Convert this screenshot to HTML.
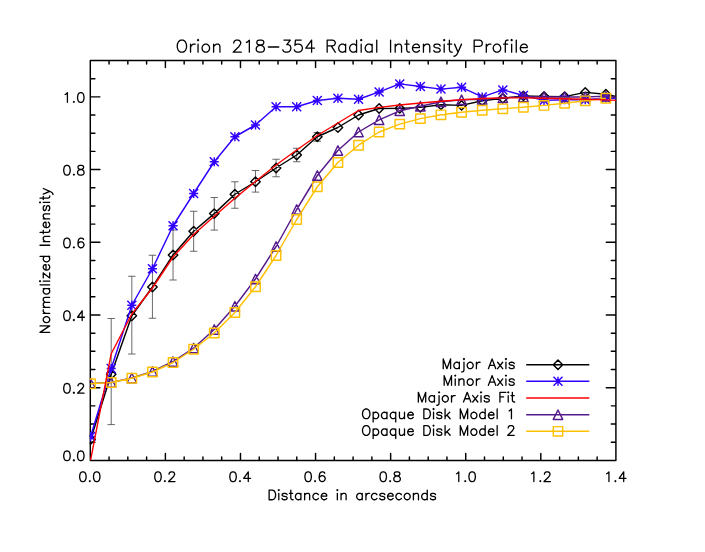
<!DOCTYPE html>
<html><head><meta charset="utf-8"><title>Orion 218-354 Radial Intensity Profile</title>
<style>html,body{margin:0;padding:0;background:#fff;font-family:"Liberation Sans",sans-serif;}svg{display:block}</style></head>
<body>
<svg width="705" height="552" viewBox="0 0 705 552">
<rect width="705" height="552" fill="#fff"/>
<g fill="none" stroke="#000" stroke-width="1.3" stroke-linecap="round" stroke-linejoin="round"><path transform="translate(352.25 52.20) rotate(0)" d="M-171.51 -12.11 L-172.66 -11.53 L-173.81 -10.38 L-174.39 -9.22 L-174.97 -7.49 L-174.97 -4.61 L-174.39 -2.88 L-173.81 -1.73 L-172.66 -0.58 L-171.51 0.00 L-169.20 0.00 L-168.05 -0.58 L-166.90 -1.73 L-166.32 -2.88 L-165.74 -4.61 L-165.74 -7.49 L-166.32 -9.22 L-166.90 -10.38 L-168.05 -11.53 L-169.20 -12.11 L-171.51 -12.11 M-161.71 -8.07 L-161.71 0.00 M-161.71 -4.61 L-161.13 -6.34 L-159.98 -7.49 L-158.83 -8.07 L-157.10 -8.07 M-154.79 -12.11 L-154.21 -11.53 L-153.64 -12.11 L-154.21 -12.68 L-154.79 -12.11 M-154.21 -8.07 L-154.21 0.00 M-147.30 -8.07 L-148.45 -7.49 L-149.60 -6.34 L-150.18 -4.61 L-150.18 -3.46 L-149.60 -1.73 L-148.45 -0.58 L-147.30 0.00 L-145.57 0.00 L-144.41 -0.58 L-143.26 -1.73 L-142.68 -3.46 L-142.68 -4.61 L-143.26 -6.34 L-144.41 -7.49 L-145.57 -8.07 L-147.30 -8.07 M-138.65 -8.07 L-138.65 0.00 M-138.65 -5.77 L-136.92 -7.49 L-135.77 -8.07 L-134.04 -8.07 L-132.88 -7.49 L-132.31 -5.77 L-132.31 0.00 M-118.47 -9.22 L-118.47 -9.80 L-117.89 -10.95 L-117.32 -11.53 L-116.16 -12.11 L-113.86 -12.11 L-112.71 -11.53 L-112.13 -10.95 L-111.55 -9.80 L-111.55 -8.65 L-112.13 -7.49 L-113.28 -5.77 L-119.05 0.00 L-110.98 0.00 M-105.79 -9.80 L-104.63 -10.38 L-102.91 -12.11 L-102.91 0.00 M-93.10 -12.11 L-94.83 -11.53 L-95.41 -10.38 L-95.41 -9.22 L-94.83 -8.07 L-93.68 -7.49 L-91.38 -6.92 L-89.65 -6.34 L-88.49 -5.19 L-87.92 -4.04 L-87.92 -2.31 L-88.49 -1.15 L-89.07 -0.58 L-90.80 0.00 L-93.10 0.00 L-94.83 -0.58 L-95.41 -1.15 L-95.99 -2.31 L-95.99 -4.04 L-95.41 -5.19 L-94.26 -6.34 L-92.53 -6.92 L-90.22 -7.49 L-89.07 -8.07 L-88.49 -9.22 L-88.49 -10.38 L-89.07 -11.53 L-90.80 -12.11 L-93.10 -12.11 M-83.88 -5.19 L-73.50 -5.19 M-68.32 -12.11 L-61.97 -12.11 L-65.43 -7.49 L-63.70 -7.49 L-62.55 -6.92 L-61.97 -6.34 L-61.40 -4.61 L-61.40 -3.46 L-61.97 -1.73 L-63.13 -0.58 L-64.86 0.00 L-66.59 0.00 L-68.32 -0.58 L-68.89 -1.15 L-69.47 -2.31 M-51.02 -12.11 L-56.79 -12.11 L-57.36 -6.92 L-56.79 -7.49 L-55.06 -8.07 L-53.33 -8.07 L-51.60 -7.49 L-50.44 -6.34 L-49.87 -4.61 L-49.87 -3.46 L-50.44 -1.73 L-51.60 -0.58 L-53.33 0.00 L-55.06 0.00 L-56.79 -0.58 L-57.36 -1.15 L-57.94 -2.31 M-40.64 -12.11 L-46.41 -4.04 L-37.76 -4.04 M-40.64 -12.11 L-40.64 0.00 M-25.08 -12.11 L-25.08 0.00 M-25.08 -12.11 L-19.89 -12.11 L-18.16 -11.53 L-17.58 -10.95 L-17.01 -9.80 L-17.01 -8.65 L-17.58 -7.49 L-18.16 -6.92 L-19.89 -6.34 L-25.08 -6.34 M-21.04 -6.34 L-17.01 0.00 M-6.63 -8.07 L-6.63 0.00 M-6.63 -6.34 L-7.78 -7.49 L-8.94 -8.07 L-10.67 -8.07 L-11.82 -7.49 L-12.97 -6.34 L-13.55 -4.61 L-13.55 -3.46 L-12.97 -1.73 L-11.82 -0.58 L-10.67 0.00 L-8.94 0.00 L-7.78 -0.58 L-6.63 -1.73 M4.32 -12.11 L4.32 0.00 M4.32 -6.34 L3.17 -7.49 L2.02 -8.07 L0.29 -8.07 L-0.86 -7.49 L-2.02 -6.34 L-2.59 -4.61 L-2.59 -3.46 L-2.02 -1.73 L-0.86 -0.58 L0.29 0.00 L2.02 0.00 L3.17 -0.58 L4.32 -1.73 M8.36 -12.11 L8.94 -11.53 L9.51 -12.11 L8.94 -12.68 L8.36 -12.11 M8.94 -8.07 L8.94 0.00 M19.89 -8.07 L19.89 0.00 M19.89 -6.34 L18.74 -7.49 L17.58 -8.07 L15.85 -8.07 L14.70 -7.49 L13.55 -6.34 L12.97 -4.61 L12.97 -3.46 L13.55 -1.73 L14.70 -0.58 L15.85 0.00 L17.58 0.00 L18.74 -0.58 L19.89 -1.73 M24.50 -12.11 L24.50 0.00 M38.34 -12.11 L38.34 0.00 M42.95 -8.07 L42.95 0.00 M42.95 -5.77 L44.68 -7.49 L45.83 -8.07 L47.56 -8.07 L48.71 -7.49 L49.29 -5.77 L49.29 0.00 M54.48 -12.11 L54.48 -2.31 L55.06 -0.58 L56.21 0.00 L57.36 0.00 M52.75 -8.07 L56.79 -8.07 M60.24 -4.61 L67.16 -4.61 L67.16 -5.77 L66.59 -6.92 L66.01 -7.49 L64.86 -8.07 L63.13 -8.07 L61.97 -7.49 L60.82 -6.34 L60.24 -4.61 L60.24 -3.46 L60.82 -1.73 L61.97 -0.58 L63.13 0.00 L64.86 0.00 L66.01 -0.58 L67.16 -1.73 M71.20 -8.07 L71.20 0.00 M71.20 -5.77 L72.93 -7.49 L74.08 -8.07 L75.81 -8.07 L76.96 -7.49 L77.54 -5.77 L77.54 0.00 M87.92 -6.34 L87.34 -7.49 L85.61 -8.07 L83.88 -8.07 L82.15 -7.49 L81.57 -6.34 L82.15 -5.19 L83.30 -4.61 L86.19 -4.04 L87.34 -3.46 L87.92 -2.31 L87.92 -1.73 L87.34 -0.58 L85.61 0.00 L83.88 0.00 L82.15 -0.58 L81.57 -1.73 M91.38 -12.11 L91.95 -11.53 L92.53 -12.11 L91.95 -12.68 L91.38 -12.11 M91.95 -8.07 L91.95 0.00 M97.14 -12.11 L97.14 -2.31 L97.72 -0.58 L98.87 0.00 L100.02 0.00 M95.41 -8.07 L99.45 -8.07 M102.33 -8.07 L105.79 0.00 M109.25 -8.07 L105.79 0.00 L104.63 2.31 L103.48 3.46 L102.33 4.04 L101.75 4.04 M121.93 -12.11 L121.93 0.00 M121.93 -12.11 L127.12 -12.11 L128.85 -11.53 L129.42 -10.95 L130.00 -9.80 L130.00 -8.07 L129.42 -6.92 L128.85 -6.34 L127.12 -5.77 L121.93 -5.77 M134.04 -8.07 L134.04 0.00 M134.04 -4.61 L134.61 -6.34 L135.77 -7.49 L136.92 -8.07 L138.65 -8.07 M143.84 -8.07 L142.68 -7.49 L141.53 -6.34 L140.95 -4.61 L140.95 -3.46 L141.53 -1.73 L142.68 -0.58 L143.84 0.00 L145.57 0.00 L146.72 -0.58 L147.87 -1.73 L148.45 -3.46 L148.45 -4.61 L147.87 -6.34 L146.72 -7.49 L145.57 -8.07 L143.84 -8.07 M155.94 -12.11 L154.79 -12.11 L153.64 -11.53 L153.06 -9.80 L153.06 0.00 M151.33 -8.07 L155.37 -8.07 M158.83 -12.11 L159.40 -11.53 L159.98 -12.11 L159.40 -12.68 L158.83 -12.11 M159.40 -8.07 L159.40 0.00 M164.01 -12.11 L164.01 0.00 M168.05 -4.61 L174.97 -4.61 L174.97 -5.77 L174.39 -6.92 L173.81 -7.49 L172.66 -8.07 L170.93 -8.07 L169.78 -7.49 L168.63 -6.34 L168.05 -4.61 L168.05 -3.46 L168.63 -1.73 L169.78 -0.58 L170.93 0.00 L172.66 0.00 L173.81 -0.58 L174.97 -1.73"/><path transform="translate(89.80 481.55) rotate(0)" d="M-7.38 -9.68 L-8.76 -9.22 L-9.68 -7.84 L-10.14 -5.53 L-10.14 -4.15 L-9.68 -1.84 L-8.76 -0.46 L-7.38 0.00 L-6.45 0.00 L-5.07 -0.46 L-4.15 -1.84 L-3.69 -4.15 L-3.69 -5.53 L-4.15 -7.84 L-5.07 -9.22 L-6.45 -9.68 L-7.38 -9.68 M0.00 -0.92 L-0.46 -0.46 L0.00 0.00 L0.46 -0.46 L0.00 -0.92 M6.45 -9.68 L5.07 -9.22 L4.15 -7.84 L3.69 -5.53 L3.69 -4.15 L4.15 -1.84 L5.07 -0.46 L6.45 0.00 L7.38 0.00 L8.76 -0.46 L9.68 -1.84 L10.14 -4.15 L10.14 -5.53 L9.68 -7.84 L8.76 -9.22 L7.38 -9.68 L6.45 -9.68"/><path transform="translate(164.89 481.55) rotate(0)" d="M-7.38 -9.68 L-8.76 -9.22 L-9.68 -7.84 L-10.14 -5.53 L-10.14 -4.15 L-9.68 -1.84 L-8.76 -0.46 L-7.38 0.00 L-6.45 0.00 L-5.07 -0.46 L-4.15 -1.84 L-3.69 -4.15 L-3.69 -5.53 L-4.15 -7.84 L-5.07 -9.22 L-6.45 -9.68 L-7.38 -9.68 M0.00 -0.92 L-0.46 -0.46 L0.00 0.00 L0.46 -0.46 L0.00 -0.92 M4.15 -7.38 L4.15 -7.84 L4.61 -8.76 L5.07 -9.22 L5.99 -9.68 L7.84 -9.68 L8.76 -9.22 L9.22 -8.76 L9.68 -7.84 L9.68 -6.92 L9.22 -5.99 L8.30 -4.61 L3.69 0.00 L10.14 0.00"/><path transform="translate(239.97 481.55) rotate(0)" d="M-7.38 -9.68 L-8.76 -9.22 L-9.68 -7.84 L-10.14 -5.53 L-10.14 -4.15 L-9.68 -1.84 L-8.76 -0.46 L-7.38 0.00 L-6.45 0.00 L-5.07 -0.46 L-4.15 -1.84 L-3.69 -4.15 L-3.69 -5.53 L-4.15 -7.84 L-5.07 -9.22 L-6.45 -9.68 L-7.38 -9.68 M0.00 -0.92 L-0.46 -0.46 L0.00 0.00 L0.46 -0.46 L0.00 -0.92 M8.30 -9.68 L3.69 -3.23 L10.60 -3.23 M8.30 -9.68 L8.30 0.00"/><path transform="translate(315.06 481.55) rotate(0)" d="M-7.38 -9.68 L-8.76 -9.22 L-9.68 -7.84 L-10.14 -5.53 L-10.14 -4.15 L-9.68 -1.84 L-8.76 -0.46 L-7.38 0.00 L-6.45 0.00 L-5.07 -0.46 L-4.15 -1.84 L-3.69 -4.15 L-3.69 -5.53 L-4.15 -7.84 L-5.07 -9.22 L-6.45 -9.68 L-7.38 -9.68 M0.00 -0.92 L-0.46 -0.46 L0.00 0.00 L0.46 -0.46 L0.00 -0.92 M9.68 -8.30 L9.22 -9.22 L7.84 -9.68 L6.92 -9.68 L5.53 -9.22 L4.61 -7.84 L4.15 -5.53 L4.15 -3.23 L4.61 -1.38 L5.53 -0.46 L6.92 0.00 L7.38 0.00 L8.76 -0.46 L9.68 -1.38 L10.14 -2.77 L10.14 -3.23 L9.68 -4.61 L8.76 -5.53 L7.38 -5.99 L6.92 -5.99 L5.53 -5.53 L4.61 -4.61 L4.15 -3.23"/><path transform="translate(390.14 481.55) rotate(0)" d="M-7.38 -9.68 L-8.76 -9.22 L-9.68 -7.84 L-10.14 -5.53 L-10.14 -4.15 L-9.68 -1.84 L-8.76 -0.46 L-7.38 0.00 L-6.45 0.00 L-5.07 -0.46 L-4.15 -1.84 L-3.69 -4.15 L-3.69 -5.53 L-4.15 -7.84 L-5.07 -9.22 L-6.45 -9.68 L-7.38 -9.68 M0.00 -0.92 L-0.46 -0.46 L0.00 0.00 L0.46 -0.46 L0.00 -0.92 M5.99 -9.68 L4.61 -9.22 L4.15 -8.30 L4.15 -7.38 L4.61 -6.45 L5.53 -5.99 L7.38 -5.53 L8.76 -5.07 L9.68 -4.15 L10.14 -3.23 L10.14 -1.84 L9.68 -0.92 L9.22 -0.46 L7.84 0.00 L5.99 0.00 L4.61 -0.46 L4.15 -0.92 L3.69 -1.84 L3.69 -3.23 L4.15 -4.15 L5.07 -5.07 L6.45 -5.53 L8.30 -5.99 L9.22 -6.45 L9.68 -7.38 L9.68 -8.30 L9.22 -9.22 L7.84 -9.68 L5.99 -9.68"/><path transform="translate(465.23 481.55) rotate(0)" d="M-8.76 -7.84 L-7.84 -8.30 L-6.45 -9.68 L-6.45 0.00 M0.00 -0.92 L-0.46 -0.46 L0.00 0.00 L0.46 -0.46 L0.00 -0.92 M6.45 -9.68 L5.07 -9.22 L4.15 -7.84 L3.69 -5.53 L3.69 -4.15 L4.15 -1.84 L5.07 -0.46 L6.45 0.00 L7.38 0.00 L8.76 -0.46 L9.68 -1.84 L10.14 -4.15 L10.14 -5.53 L9.68 -7.84 L8.76 -9.22 L7.38 -9.68 L6.45 -9.68"/><path transform="translate(540.31 481.55) rotate(0)" d="M-8.76 -7.84 L-7.84 -8.30 L-6.45 -9.68 L-6.45 0.00 M0.00 -0.92 L-0.46 -0.46 L0.00 0.00 L0.46 -0.46 L0.00 -0.92 M4.15 -7.38 L4.15 -7.84 L4.61 -8.76 L5.07 -9.22 L5.99 -9.68 L7.84 -9.68 L8.76 -9.22 L9.22 -8.76 L9.68 -7.84 L9.68 -6.92 L9.22 -5.99 L8.30 -4.61 L3.69 0.00 L10.14 0.00"/><path transform="translate(615.40 481.55) rotate(0)" d="M-8.76 -7.84 L-7.84 -8.30 L-6.45 -9.68 L-6.45 0.00 M0.00 -0.92 L-0.46 -0.46 L0.00 0.00 L0.46 -0.46 L0.00 -0.92 M8.30 -9.68 L3.69 -3.23 L10.60 -3.23 M8.30 -9.68 L8.30 0.00"/><path transform="translate(85.40 460.70) rotate(0)" d="M-18.90 -9.68 L-20.28 -9.22 L-21.21 -7.84 L-21.67 -5.53 L-21.67 -4.15 L-21.21 -1.84 L-20.28 -0.46 L-18.90 0.00 L-17.98 0.00 L-16.60 -0.46 L-15.67 -1.84 L-15.21 -4.15 L-15.21 -5.53 L-15.67 -7.84 L-16.60 -9.22 L-17.98 -9.68 L-18.90 -9.68 M-11.53 -0.92 L-11.99 -0.46 L-11.53 0.00 L-11.06 -0.46 L-11.53 -0.92 M-5.07 -9.68 L-6.45 -9.22 L-7.38 -7.84 L-7.84 -5.53 L-7.84 -4.15 L-7.38 -1.84 L-6.45 -0.46 L-5.07 0.00 L-4.15 0.00 L-2.77 -0.46 L-1.84 -1.84 L-1.38 -4.15 L-1.38 -5.53 L-1.84 -7.84 L-2.77 -9.22 L-4.15 -9.68 L-5.07 -9.68"/><path transform="translate(85.40 393.19) rotate(0)" d="M-18.90 -9.68 L-20.28 -9.22 L-21.21 -7.84 L-21.67 -5.53 L-21.67 -4.15 L-21.21 -1.84 L-20.28 -0.46 L-18.90 0.00 L-17.98 0.00 L-16.60 -0.46 L-15.67 -1.84 L-15.21 -4.15 L-15.21 -5.53 L-15.67 -7.84 L-16.60 -9.22 L-17.98 -9.68 L-18.90 -9.68 M-11.53 -0.92 L-11.99 -0.46 L-11.53 0.00 L-11.06 -0.46 L-11.53 -0.92 M-7.38 -7.38 L-7.38 -7.84 L-6.92 -8.76 L-6.45 -9.22 L-5.53 -9.68 L-3.69 -9.68 L-2.77 -9.22 L-2.31 -8.76 L-1.84 -7.84 L-1.84 -6.92 L-2.31 -5.99 L-3.23 -4.61 L-7.84 0.00 L-1.38 0.00"/><path transform="translate(85.40 320.48) rotate(0)" d="M-18.90 -9.68 L-20.28 -9.22 L-21.21 -7.84 L-21.67 -5.53 L-21.67 -4.15 L-21.21 -1.84 L-20.28 -0.46 L-18.90 0.00 L-17.98 0.00 L-16.60 -0.46 L-15.67 -1.84 L-15.21 -4.15 L-15.21 -5.53 L-15.67 -7.84 L-16.60 -9.22 L-17.98 -9.68 L-18.90 -9.68 M-11.53 -0.92 L-11.99 -0.46 L-11.53 0.00 L-11.06 -0.46 L-11.53 -0.92 M-3.23 -9.68 L-7.84 -3.23 L-0.92 -3.23 M-3.23 -9.68 L-3.23 0.00"/><path transform="translate(85.40 247.77) rotate(0)" d="M-18.90 -9.68 L-20.28 -9.22 L-21.21 -7.84 L-21.67 -5.53 L-21.67 -4.15 L-21.21 -1.84 L-20.28 -0.46 L-18.90 0.00 L-17.98 0.00 L-16.60 -0.46 L-15.67 -1.84 L-15.21 -4.15 L-15.21 -5.53 L-15.67 -7.84 L-16.60 -9.22 L-17.98 -9.68 L-18.90 -9.68 M-11.53 -0.92 L-11.99 -0.46 L-11.53 0.00 L-11.06 -0.46 L-11.53 -0.92 M-1.84 -8.30 L-2.31 -9.22 L-3.69 -9.68 L-4.61 -9.68 L-5.99 -9.22 L-6.92 -7.84 L-7.38 -5.53 L-7.38 -3.23 L-6.92 -1.38 L-5.99 -0.46 L-4.61 0.00 L-4.15 0.00 L-2.77 -0.46 L-1.84 -1.38 L-1.38 -2.77 L-1.38 -3.23 L-1.84 -4.61 L-2.77 -5.53 L-4.15 -5.99 L-4.61 -5.99 L-5.99 -5.53 L-6.92 -4.61 L-7.38 -3.23"/><path transform="translate(85.40 175.06) rotate(0)" d="M-18.90 -9.68 L-20.28 -9.22 L-21.21 -7.84 L-21.67 -5.53 L-21.67 -4.15 L-21.21 -1.84 L-20.28 -0.46 L-18.90 0.00 L-17.98 0.00 L-16.60 -0.46 L-15.67 -1.84 L-15.21 -4.15 L-15.21 -5.53 L-15.67 -7.84 L-16.60 -9.22 L-17.98 -9.68 L-18.90 -9.68 M-11.53 -0.92 L-11.99 -0.46 L-11.53 0.00 L-11.06 -0.46 L-11.53 -0.92 M-5.53 -9.68 L-6.92 -9.22 L-7.38 -8.30 L-7.38 -7.38 L-6.92 -6.45 L-5.99 -5.99 L-4.15 -5.53 L-2.77 -5.07 L-1.84 -4.15 L-1.38 -3.23 L-1.38 -1.84 L-1.84 -0.92 L-2.31 -0.46 L-3.69 0.00 L-5.53 0.00 L-6.92 -0.46 L-7.38 -0.92 L-7.84 -1.84 L-7.84 -3.23 L-7.38 -4.15 L-6.45 -5.07 L-5.07 -5.53 L-3.23 -5.99 L-2.31 -6.45 L-1.84 -7.38 L-1.84 -8.30 L-2.31 -9.22 L-3.69 -9.68 L-5.53 -9.68"/><path transform="translate(85.40 102.35) rotate(0)" d="M-20.28 -7.84 L-19.36 -8.30 L-17.98 -9.68 L-17.98 0.00 M-11.53 -0.92 L-11.99 -0.46 L-11.53 0.00 L-11.06 -0.46 L-11.53 -0.92 M-5.07 -9.68 L-6.45 -9.22 L-7.38 -7.84 L-7.84 -5.53 L-7.84 -4.15 L-7.38 -1.84 L-6.45 -0.46 L-5.07 0.00 L-4.15 0.00 L-2.77 -0.46 L-1.84 -1.84 L-1.38 -4.15 L-1.38 -5.53 L-1.84 -7.84 L-2.77 -9.22 L-4.15 -9.68 L-5.07 -9.68"/><path transform="translate(352.10 499.75) rotate(0)" d="M-82.98 -9.68 L-82.98 0.00 M-82.98 -9.68 L-79.75 -9.68 L-78.37 -9.22 L-77.45 -8.30 L-76.99 -7.38 L-76.53 -5.99 L-76.53 -3.69 L-76.99 -2.31 L-77.45 -1.38 L-78.37 -0.46 L-79.75 0.00 L-82.98 0.00 M-73.76 -9.68 L-73.30 -9.22 L-72.84 -9.68 L-73.30 -10.14 L-73.76 -9.68 M-73.30 -6.45 L-73.30 0.00 M-65.00 -5.07 L-65.46 -5.99 L-66.84 -6.45 L-68.23 -6.45 L-69.61 -5.99 L-70.07 -5.07 L-69.61 -4.15 L-68.69 -3.69 L-66.38 -3.23 L-65.46 -2.77 L-65.00 -1.84 L-65.00 -1.38 L-65.46 -0.46 L-66.84 0.00 L-68.23 0.00 L-69.61 -0.46 L-70.07 -1.38 M-61.31 -9.68 L-61.31 -1.84 L-60.85 -0.46 L-59.93 0.00 L-59.01 0.00 M-62.70 -6.45 L-59.47 -6.45 M-51.17 -6.45 L-51.17 0.00 M-51.17 -5.07 L-52.09 -5.99 L-53.02 -6.45 L-54.40 -6.45 L-55.32 -5.99 L-56.24 -5.07 L-56.70 -3.69 L-56.70 -2.77 L-56.24 -1.38 L-55.32 -0.46 L-54.40 0.00 L-53.02 0.00 L-52.09 -0.46 L-51.17 -1.38 M-47.48 -6.45 L-47.48 0.00 M-47.48 -4.61 L-46.10 -5.99 L-45.18 -6.45 L-43.80 -6.45 L-42.87 -5.99 L-42.41 -4.61 L-42.41 0.00 M-33.65 -5.07 L-34.58 -5.99 L-35.50 -6.45 L-36.88 -6.45 L-37.80 -5.99 L-38.72 -5.07 L-39.19 -3.69 L-39.19 -2.77 L-38.72 -1.38 L-37.80 -0.46 L-36.88 0.00 L-35.50 0.00 L-34.58 -0.46 L-33.65 -1.38 M-30.89 -3.69 L-25.36 -3.69 L-25.36 -4.61 L-25.82 -5.53 L-26.28 -5.99 L-27.20 -6.45 L-28.58 -6.45 L-29.50 -5.99 L-30.43 -5.07 L-30.89 -3.69 L-30.89 -2.77 L-30.43 -1.38 L-29.50 -0.46 L-28.58 0.00 L-27.20 0.00 L-26.28 -0.46 L-25.36 -1.38 M-15.21 -9.68 L-14.75 -9.22 L-14.29 -9.68 L-14.75 -10.14 L-15.21 -9.68 M-14.75 -6.45 L-14.75 0.00 M-11.06 -6.45 L-11.06 0.00 M-11.06 -4.61 L-9.68 -5.99 L-8.76 -6.45 L-7.38 -6.45 L-6.45 -5.99 L-5.99 -4.61 L-5.99 0.00 M10.14 -6.45 L10.14 0.00 M10.14 -5.07 L9.22 -5.99 L8.30 -6.45 L6.92 -6.45 L5.99 -5.99 L5.07 -5.07 L4.61 -3.69 L4.61 -2.77 L5.07 -1.38 L5.99 -0.46 L6.92 0.00 L8.30 0.00 L9.22 -0.46 L10.14 -1.38 M13.83 -6.45 L13.83 0.00 M13.83 -3.69 L14.29 -5.07 L15.21 -5.99 L16.14 -6.45 L17.52 -6.45 M24.89 -5.07 L23.97 -5.99 L23.05 -6.45 L21.67 -6.45 L20.75 -5.99 L19.82 -5.07 L19.36 -3.69 L19.36 -2.77 L19.82 -1.38 L20.75 -0.46 L21.67 0.00 L23.05 0.00 L23.97 -0.46 L24.89 -1.38 M32.73 -5.07 L32.27 -5.99 L30.89 -6.45 L29.50 -6.45 L28.12 -5.99 L27.66 -5.07 L28.12 -4.15 L29.04 -3.69 L31.35 -3.23 L32.27 -2.77 L32.73 -1.84 L32.73 -1.38 L32.27 -0.46 L30.89 0.00 L29.50 0.00 L28.12 -0.46 L27.66 -1.38 M35.50 -3.69 L41.03 -3.69 L41.03 -4.61 L40.57 -5.53 L40.11 -5.99 L39.19 -6.45 L37.80 -6.45 L36.88 -5.99 L35.96 -5.07 L35.50 -3.69 L35.50 -2.77 L35.96 -1.38 L36.88 -0.46 L37.80 0.00 L39.19 0.00 L40.11 -0.46 L41.03 -1.38 M49.33 -5.07 L48.41 -5.99 L47.48 -6.45 L46.10 -6.45 L45.18 -5.99 L44.26 -5.07 L43.80 -3.69 L43.80 -2.77 L44.26 -1.38 L45.18 -0.46 L46.10 0.00 L47.48 0.00 L48.41 -0.46 L49.33 -1.38 M54.40 -6.45 L53.48 -5.99 L52.55 -5.07 L52.09 -3.69 L52.09 -2.77 L52.55 -1.38 L53.48 -0.46 L54.40 0.00 L55.78 0.00 L56.70 -0.46 L57.62 -1.38 L58.09 -2.77 L58.09 -3.69 L57.62 -5.07 L56.70 -5.99 L55.78 -6.45 L54.40 -6.45 M61.31 -6.45 L61.31 0.00 M61.31 -4.61 L62.70 -5.99 L63.62 -6.45 L65.00 -6.45 L65.92 -5.99 L66.38 -4.61 L66.38 0.00 M75.14 -9.68 L75.14 0.00 M75.14 -5.07 L74.22 -5.99 L73.30 -6.45 L71.92 -6.45 L70.99 -5.99 L70.07 -5.07 L69.61 -3.69 L69.61 -2.77 L70.07 -1.38 L70.99 -0.46 L71.92 0.00 L73.30 0.00 L74.22 -0.46 L75.14 -1.38 M83.44 -5.07 L82.98 -5.99 L81.60 -6.45 L80.21 -6.45 L78.83 -5.99 L78.37 -5.07 L78.83 -4.15 L79.75 -3.69 L82.06 -3.23 L82.98 -2.77 L83.44 -1.84 L83.44 -1.38 L82.98 -0.46 L81.60 0.00 L80.21 0.00 L78.83 -0.46 L78.37 -1.38"/><path transform="translate(49.70 260.90) rotate(-90)" d="M-71.45 -9.68 L-71.45 0.00 M-71.45 -9.68 L-65.00 0.00 M-65.00 -9.68 L-65.00 0.00 M-59.47 -6.45 L-60.39 -5.99 L-61.31 -5.07 L-61.77 -3.69 L-61.77 -2.77 L-61.31 -1.38 L-60.39 -0.46 L-59.47 0.00 L-58.09 0.00 L-57.16 -0.46 L-56.24 -1.38 L-55.78 -2.77 L-55.78 -3.69 L-56.24 -5.07 L-57.16 -5.99 L-58.09 -6.45 L-59.47 -6.45 M-52.55 -6.45 L-52.55 0.00 M-52.55 -3.69 L-52.09 -5.07 L-51.17 -5.99 L-50.25 -6.45 L-48.87 -6.45 M-46.56 -6.45 L-46.56 0.00 M-46.56 -4.61 L-45.18 -5.99 L-44.26 -6.45 L-42.87 -6.45 L-41.95 -5.99 L-41.49 -4.61 L-41.49 0.00 M-41.49 -4.61 L-40.11 -5.99 L-39.19 -6.45 L-37.80 -6.45 L-36.88 -5.99 L-36.42 -4.61 L-36.42 0.00 M-27.66 -6.45 L-27.66 0.00 M-27.66 -5.07 L-28.58 -5.99 L-29.50 -6.45 L-30.89 -6.45 L-31.81 -5.99 L-32.73 -5.07 L-33.19 -3.69 L-33.19 -2.77 L-32.73 -1.38 L-31.81 -0.46 L-30.89 0.00 L-29.50 0.00 L-28.58 -0.46 L-27.66 -1.38 M-23.97 -9.68 L-23.97 0.00 M-20.75 -9.68 L-20.28 -9.22 L-19.82 -9.68 L-20.28 -10.14 L-20.75 -9.68 M-20.28 -6.45 L-20.28 0.00 M-11.99 -6.45 L-17.06 0.00 M-17.06 -6.45 L-11.99 -6.45 M-17.06 0.00 L-11.99 0.00 M-9.22 -3.69 L-3.69 -3.69 L-3.69 -4.61 L-4.15 -5.53 L-4.61 -5.99 L-5.53 -6.45 L-6.92 -6.45 L-7.84 -5.99 L-8.76 -5.07 L-9.22 -3.69 L-9.22 -2.77 L-8.76 -1.38 L-7.84 -0.46 L-6.92 0.00 L-5.53 0.00 L-4.61 -0.46 L-3.69 -1.38 M4.61 -9.68 L4.61 0.00 M4.61 -5.07 L3.69 -5.99 L2.77 -6.45 L1.38 -6.45 L0.46 -5.99 L-0.46 -5.07 L-0.92 -3.69 L-0.92 -2.77 L-0.46 -1.38 L0.46 -0.46 L1.38 0.00 L2.77 0.00 L3.69 -0.46 L4.61 -1.38 M15.67 -9.68 L15.67 0.00 M19.36 -6.45 L19.36 0.00 M19.36 -4.61 L20.75 -5.99 L21.67 -6.45 L23.05 -6.45 L23.97 -5.99 L24.43 -4.61 L24.43 0.00 M28.58 -9.68 L28.58 -1.84 L29.04 -0.46 L29.96 0.00 L30.89 0.00 M27.20 -6.45 L30.43 -6.45 M33.19 -3.69 L38.72 -3.69 L38.72 -4.61 L38.26 -5.53 L37.80 -5.99 L36.88 -6.45 L35.50 -6.45 L34.58 -5.99 L33.65 -5.07 L33.19 -3.69 L33.19 -2.77 L33.65 -1.38 L34.58 -0.46 L35.50 0.00 L36.88 0.00 L37.80 -0.46 L38.72 -1.38 M41.95 -6.45 L41.95 0.00 M41.95 -4.61 L43.33 -5.99 L44.26 -6.45 L45.64 -6.45 L46.56 -5.99 L47.02 -4.61 L47.02 0.00 M55.32 -5.07 L54.86 -5.99 L53.48 -6.45 L52.09 -6.45 L50.71 -5.99 L50.25 -5.07 L50.71 -4.15 L51.63 -3.69 L53.94 -3.23 L54.86 -2.77 L55.32 -1.84 L55.32 -1.38 L54.86 -0.46 L53.48 0.00 L52.09 0.00 L50.71 -0.46 L50.25 -1.38 M58.09 -9.68 L58.55 -9.22 L59.01 -9.68 L58.55 -10.14 L58.09 -9.68 M58.55 -6.45 L58.55 0.00 M62.70 -9.68 L62.70 -1.84 L63.16 -0.46 L64.08 0.00 L65.00 0.00 M61.31 -6.45 L64.54 -6.45 M66.84 -6.45 L69.61 0.00 M72.38 -6.45 L69.61 0.00 L68.69 1.84 L67.77 2.77 L66.84 3.23 L66.38 3.23"/><path transform="translate(515.60 368.70) rotate(0)" d="M-72.38 -9.68 L-72.38 0.00 M-72.38 -9.68 L-68.69 0.00 M-65.00 -9.68 L-68.69 0.00 M-65.00 -9.68 L-65.00 0.00 M-56.24 -6.45 L-56.24 0.00 M-56.24 -5.07 L-57.16 -5.99 L-58.09 -6.45 L-59.47 -6.45 L-60.39 -5.99 L-61.31 -5.07 L-61.77 -3.69 L-61.77 -2.77 L-61.31 -1.38 L-60.39 -0.46 L-59.47 0.00 L-58.09 0.00 L-57.16 -0.46 L-56.24 -1.38 M-52.09 -9.68 L-51.63 -9.22 L-51.17 -9.68 L-51.63 -10.14 L-52.09 -9.68 M-51.63 -6.45 L-51.63 1.38 L-52.09 2.77 L-53.02 3.23 L-53.94 3.23 M-46.10 -6.45 L-47.02 -5.99 L-47.94 -5.07 L-48.41 -3.69 L-48.41 -2.77 L-47.94 -1.38 L-47.02 -0.46 L-46.10 0.00 L-44.72 0.00 L-43.80 -0.46 L-42.87 -1.38 L-42.41 -2.77 L-42.41 -3.69 L-42.87 -5.07 L-43.80 -5.99 L-44.72 -6.45 L-46.10 -6.45 M-39.19 -6.45 L-39.19 0.00 M-39.19 -3.69 L-38.72 -5.07 L-37.80 -5.99 L-36.88 -6.45 L-35.50 -6.45 M-23.51 -9.68 L-27.20 0.00 M-23.51 -9.68 L-19.82 0.00 M-25.82 -3.23 L-21.21 -3.23 M-17.98 -6.45 L-12.91 0.00 M-12.91 -6.45 L-17.98 0.00 M-10.14 -9.68 L-9.68 -9.22 L-9.22 -9.68 L-9.68 -10.14 L-10.14 -9.68 M-9.68 -6.45 L-9.68 0.00 M-1.38 -5.07 L-1.84 -5.99 L-3.23 -6.45 L-4.61 -6.45 L-5.99 -5.99 L-6.45 -5.07 L-5.99 -4.15 L-5.07 -3.69 L-2.77 -3.23 L-1.84 -2.77 L-1.38 -1.84 L-1.38 -1.38 L-1.84 -0.46 L-3.23 0.00 L-4.61 0.00 L-5.99 -0.46 L-6.45 -1.38"/><path transform="translate(515.60 385.30) rotate(0)" d="M-71.45 -9.68 L-71.45 0.00 M-71.45 -9.68 L-67.77 0.00 M-64.08 -9.68 L-67.77 0.00 M-64.08 -9.68 L-64.08 0.00 M-60.85 -9.68 L-60.39 -9.22 L-59.93 -9.68 L-60.39 -10.14 L-60.85 -9.68 M-60.39 -6.45 L-60.39 0.00 M-56.70 -6.45 L-56.70 0.00 M-56.70 -4.61 L-55.32 -5.99 L-54.40 -6.45 L-53.02 -6.45 L-52.09 -5.99 L-51.63 -4.61 L-51.63 0.00 M-46.10 -6.45 L-47.02 -5.99 L-47.94 -5.07 L-48.41 -3.69 L-48.41 -2.77 L-47.94 -1.38 L-47.02 -0.46 L-46.10 0.00 L-44.72 0.00 L-43.80 -0.46 L-42.87 -1.38 L-42.41 -2.77 L-42.41 -3.69 L-42.87 -5.07 L-43.80 -5.99 L-44.72 -6.45 L-46.10 -6.45 M-39.19 -6.45 L-39.19 0.00 M-39.19 -3.69 L-38.72 -5.07 L-37.80 -5.99 L-36.88 -6.45 L-35.50 -6.45 M-23.51 -9.68 L-27.20 0.00 M-23.51 -9.68 L-19.82 0.00 M-25.82 -3.23 L-21.21 -3.23 M-17.98 -6.45 L-12.91 0.00 M-12.91 -6.45 L-17.98 0.00 M-10.14 -9.68 L-9.68 -9.22 L-9.22 -9.68 L-9.68 -10.14 L-10.14 -9.68 M-9.68 -6.45 L-9.68 0.00 M-1.38 -5.07 L-1.84 -5.99 L-3.23 -6.45 L-4.61 -6.45 L-5.99 -5.99 L-6.45 -5.07 L-5.99 -4.15 L-5.07 -3.69 L-2.77 -3.23 L-1.84 -2.77 L-1.38 -1.84 L-1.38 -1.38 L-1.84 -0.46 L-3.23 0.00 L-4.61 0.00 L-5.99 -0.46 L-6.45 -1.38"/><path transform="translate(515.60 402.00) rotate(0)" d="M-97.27 -9.68 L-97.27 0.00 M-97.27 -9.68 L-93.58 0.00 M-89.90 -9.68 L-93.58 0.00 M-89.90 -9.68 L-89.90 0.00 M-81.14 -6.45 L-81.14 0.00 M-81.14 -5.07 L-82.06 -5.99 L-82.98 -6.45 L-84.36 -6.45 L-85.29 -5.99 L-86.21 -5.07 L-86.67 -3.69 L-86.67 -2.77 L-86.21 -1.38 L-85.29 -0.46 L-84.36 0.00 L-82.98 0.00 L-82.06 -0.46 L-81.14 -1.38 M-76.99 -9.68 L-76.53 -9.22 L-76.06 -9.68 L-76.53 -10.14 L-76.99 -9.68 M-76.53 -6.45 L-76.53 1.38 L-76.99 2.77 L-77.91 3.23 L-78.83 3.23 M-70.99 -6.45 L-71.92 -5.99 L-72.84 -5.07 L-73.30 -3.69 L-73.30 -2.77 L-72.84 -1.38 L-71.92 -0.46 L-70.99 0.00 L-69.61 0.00 L-68.69 -0.46 L-67.77 -1.38 L-67.31 -2.77 L-67.31 -3.69 L-67.77 -5.07 L-68.69 -5.99 L-69.61 -6.45 L-70.99 -6.45 M-64.08 -6.45 L-64.08 0.00 M-64.08 -3.69 L-63.62 -5.07 L-62.70 -5.99 L-61.77 -6.45 L-60.39 -6.45 M-48.41 -9.68 L-52.09 0.00 M-48.41 -9.68 L-44.72 0.00 M-50.71 -3.23 L-46.10 -3.23 M-42.87 -6.45 L-37.80 0.00 M-37.80 -6.45 L-42.87 0.00 M-35.04 -9.68 L-34.58 -9.22 L-34.11 -9.68 L-34.58 -10.14 L-35.04 -9.68 M-34.58 -6.45 L-34.58 0.00 M-26.28 -5.07 L-26.74 -5.99 L-28.12 -6.45 L-29.50 -6.45 L-30.89 -5.99 L-31.35 -5.07 L-30.89 -4.15 L-29.96 -3.69 L-27.66 -3.23 L-26.74 -2.77 L-26.28 -1.84 L-26.28 -1.38 L-26.74 -0.46 L-28.12 0.00 L-29.50 0.00 L-30.89 -0.46 L-31.35 -1.38 M-15.67 -9.68 L-15.67 0.00 M-15.67 -9.68 L-9.68 -9.68 M-15.67 -5.07 L-11.99 -5.07 M-7.84 -9.68 L-7.38 -9.22 L-6.92 -9.68 L-7.38 -10.14 L-7.84 -9.68 M-7.38 -6.45 L-7.38 0.00 M-3.23 -9.68 L-3.23 -1.84 L-2.77 -0.46 L-1.84 0.00 L-0.92 0.00 M-4.61 -6.45 L-1.38 -6.45"/><path transform="translate(515.60 418.70) rotate(0)" d="M-150.29 -9.68 L-151.21 -9.22 L-152.13 -8.30 L-152.59 -7.38 L-153.05 -5.99 L-153.05 -3.69 L-152.59 -2.31 L-152.13 -1.38 L-151.21 -0.46 L-150.29 0.00 L-148.44 0.00 L-147.52 -0.46 L-146.60 -1.38 L-146.14 -2.31 L-145.68 -3.69 L-145.68 -5.99 L-146.14 -7.38 L-146.60 -8.30 L-147.52 -9.22 L-148.44 -9.68 L-150.29 -9.68 M-142.45 -6.45 L-142.45 3.23 M-142.45 -5.07 L-141.53 -5.99 L-140.61 -6.45 L-139.22 -6.45 L-138.30 -5.99 L-137.38 -5.07 L-136.92 -3.69 L-136.92 -2.77 L-137.38 -1.38 L-138.30 -0.46 L-139.22 0.00 L-140.61 0.00 L-141.53 -0.46 L-142.45 -1.38 M-128.62 -6.45 L-128.62 0.00 M-128.62 -5.07 L-129.54 -5.99 L-130.46 -6.45 L-131.85 -6.45 L-132.77 -5.99 L-133.69 -5.07 L-134.15 -3.69 L-134.15 -2.77 L-133.69 -1.38 L-132.77 -0.46 L-131.85 0.00 L-130.46 0.00 L-129.54 -0.46 L-128.62 -1.38 M-119.86 -6.45 L-119.86 3.23 M-119.86 -5.07 L-120.78 -5.99 L-121.70 -6.45 L-123.09 -6.45 L-124.01 -5.99 L-124.93 -5.07 L-125.39 -3.69 L-125.39 -2.77 L-124.93 -1.38 L-124.01 -0.46 L-123.09 0.00 L-121.70 0.00 L-120.78 -0.46 L-119.86 -1.38 M-116.17 -6.45 L-116.17 -1.84 L-115.71 -0.46 L-114.79 0.00 L-113.41 0.00 L-112.48 -0.46 L-111.10 -1.84 M-111.10 -6.45 L-111.10 0.00 M-107.87 -3.69 L-102.34 -3.69 L-102.34 -4.61 L-102.80 -5.53 L-103.26 -5.99 L-104.19 -6.45 L-105.57 -6.45 L-106.49 -5.99 L-107.41 -5.07 L-107.87 -3.69 L-107.87 -2.77 L-107.41 -1.38 L-106.49 -0.46 L-105.57 0.00 L-104.19 0.00 L-103.26 -0.46 L-102.34 -1.38 M-91.74 -9.68 L-91.74 0.00 M-91.74 -9.68 L-88.51 -9.68 L-87.13 -9.22 L-86.21 -8.30 L-85.75 -7.38 L-85.29 -5.99 L-85.29 -3.69 L-85.75 -2.31 L-86.21 -1.38 L-87.13 -0.46 L-88.51 0.00 L-91.74 0.00 M-82.52 -9.68 L-82.06 -9.22 L-81.60 -9.68 L-82.06 -10.14 L-82.52 -9.68 M-82.06 -6.45 L-82.06 0.00 M-73.76 -5.07 L-74.22 -5.99 L-75.60 -6.45 L-76.99 -6.45 L-78.37 -5.99 L-78.83 -5.07 L-78.37 -4.15 L-77.45 -3.69 L-75.14 -3.23 L-74.22 -2.77 L-73.76 -1.84 L-73.76 -1.38 L-74.22 -0.46 L-75.60 0.00 L-76.99 0.00 L-78.37 -0.46 L-78.83 -1.38 M-70.53 -9.68 L-70.53 0.00 M-65.92 -6.45 L-70.53 -1.84 M-68.69 -3.69 L-65.46 0.00 M-55.32 -9.68 L-55.32 0.00 M-55.32 -9.68 L-51.63 0.00 M-47.94 -9.68 L-51.63 0.00 M-47.94 -9.68 L-47.94 0.00 M-42.41 -6.45 L-43.33 -5.99 L-44.26 -5.07 L-44.72 -3.69 L-44.72 -2.77 L-44.26 -1.38 L-43.33 -0.46 L-42.41 0.00 L-41.03 0.00 L-40.11 -0.46 L-39.19 -1.38 L-38.72 -2.77 L-38.72 -3.69 L-39.19 -5.07 L-40.11 -5.99 L-41.03 -6.45 L-42.41 -6.45 M-30.43 -9.68 L-30.43 0.00 M-30.43 -5.07 L-31.35 -5.99 L-32.27 -6.45 L-33.65 -6.45 L-34.58 -5.99 L-35.50 -5.07 L-35.96 -3.69 L-35.96 -2.77 L-35.50 -1.38 L-34.58 -0.46 L-33.65 0.00 L-32.27 0.00 L-31.35 -0.46 L-30.43 -1.38 M-27.20 -3.69 L-21.67 -3.69 L-21.67 -4.61 L-22.13 -5.53 L-22.59 -5.99 L-23.51 -6.45 L-24.89 -6.45 L-25.82 -5.99 L-26.74 -5.07 L-27.20 -3.69 L-27.20 -2.77 L-26.74 -1.38 L-25.82 -0.46 L-24.89 0.00 L-23.51 0.00 L-22.59 -0.46 L-21.67 -1.38 M-18.44 -9.68 L-18.44 0.00 M-6.45 -7.84 L-5.53 -8.30 L-4.15 -9.68 L-4.15 0.00"/><path transform="translate(515.60 435.30) rotate(0)" d="M-150.29 -9.68 L-151.21 -9.22 L-152.13 -8.30 L-152.59 -7.38 L-153.05 -5.99 L-153.05 -3.69 L-152.59 -2.31 L-152.13 -1.38 L-151.21 -0.46 L-150.29 0.00 L-148.44 0.00 L-147.52 -0.46 L-146.60 -1.38 L-146.14 -2.31 L-145.68 -3.69 L-145.68 -5.99 L-146.14 -7.38 L-146.60 -8.30 L-147.52 -9.22 L-148.44 -9.68 L-150.29 -9.68 M-142.45 -6.45 L-142.45 3.23 M-142.45 -5.07 L-141.53 -5.99 L-140.61 -6.45 L-139.22 -6.45 L-138.30 -5.99 L-137.38 -5.07 L-136.92 -3.69 L-136.92 -2.77 L-137.38 -1.38 L-138.30 -0.46 L-139.22 0.00 L-140.61 0.00 L-141.53 -0.46 L-142.45 -1.38 M-128.62 -6.45 L-128.62 0.00 M-128.62 -5.07 L-129.54 -5.99 L-130.46 -6.45 L-131.85 -6.45 L-132.77 -5.99 L-133.69 -5.07 L-134.15 -3.69 L-134.15 -2.77 L-133.69 -1.38 L-132.77 -0.46 L-131.85 0.00 L-130.46 0.00 L-129.54 -0.46 L-128.62 -1.38 M-119.86 -6.45 L-119.86 3.23 M-119.86 -5.07 L-120.78 -5.99 L-121.70 -6.45 L-123.09 -6.45 L-124.01 -5.99 L-124.93 -5.07 L-125.39 -3.69 L-125.39 -2.77 L-124.93 -1.38 L-124.01 -0.46 L-123.09 0.00 L-121.70 0.00 L-120.78 -0.46 L-119.86 -1.38 M-116.17 -6.45 L-116.17 -1.84 L-115.71 -0.46 L-114.79 0.00 L-113.41 0.00 L-112.48 -0.46 L-111.10 -1.84 M-111.10 -6.45 L-111.10 0.00 M-107.87 -3.69 L-102.34 -3.69 L-102.34 -4.61 L-102.80 -5.53 L-103.26 -5.99 L-104.19 -6.45 L-105.57 -6.45 L-106.49 -5.99 L-107.41 -5.07 L-107.87 -3.69 L-107.87 -2.77 L-107.41 -1.38 L-106.49 -0.46 L-105.57 0.00 L-104.19 0.00 L-103.26 -0.46 L-102.34 -1.38 M-91.74 -9.68 L-91.74 0.00 M-91.74 -9.68 L-88.51 -9.68 L-87.13 -9.22 L-86.21 -8.30 L-85.75 -7.38 L-85.29 -5.99 L-85.29 -3.69 L-85.75 -2.31 L-86.21 -1.38 L-87.13 -0.46 L-88.51 0.00 L-91.74 0.00 M-82.52 -9.68 L-82.06 -9.22 L-81.60 -9.68 L-82.06 -10.14 L-82.52 -9.68 M-82.06 -6.45 L-82.06 0.00 M-73.76 -5.07 L-74.22 -5.99 L-75.60 -6.45 L-76.99 -6.45 L-78.37 -5.99 L-78.83 -5.07 L-78.37 -4.15 L-77.45 -3.69 L-75.14 -3.23 L-74.22 -2.77 L-73.76 -1.84 L-73.76 -1.38 L-74.22 -0.46 L-75.60 0.00 L-76.99 0.00 L-78.37 -0.46 L-78.83 -1.38 M-70.53 -9.68 L-70.53 0.00 M-65.92 -6.45 L-70.53 -1.84 M-68.69 -3.69 L-65.46 0.00 M-55.32 -9.68 L-55.32 0.00 M-55.32 -9.68 L-51.63 0.00 M-47.94 -9.68 L-51.63 0.00 M-47.94 -9.68 L-47.94 0.00 M-42.41 -6.45 L-43.33 -5.99 L-44.26 -5.07 L-44.72 -3.69 L-44.72 -2.77 L-44.26 -1.38 L-43.33 -0.46 L-42.41 0.00 L-41.03 0.00 L-40.11 -0.46 L-39.19 -1.38 L-38.72 -2.77 L-38.72 -3.69 L-39.19 -5.07 L-40.11 -5.99 L-41.03 -6.45 L-42.41 -6.45 M-30.43 -9.68 L-30.43 0.00 M-30.43 -5.07 L-31.35 -5.99 L-32.27 -6.45 L-33.65 -6.45 L-34.58 -5.99 L-35.50 -5.07 L-35.96 -3.69 L-35.96 -2.77 L-35.50 -1.38 L-34.58 -0.46 L-33.65 0.00 L-32.27 0.00 L-31.35 -0.46 L-30.43 -1.38 M-27.20 -3.69 L-21.67 -3.69 L-21.67 -4.61 L-22.13 -5.53 L-22.59 -5.99 L-23.51 -6.45 L-24.89 -6.45 L-25.82 -5.99 L-26.74 -5.07 L-27.20 -3.69 L-27.20 -2.77 L-26.74 -1.38 L-25.82 -0.46 L-24.89 0.00 L-23.51 0.00 L-22.59 -0.46 L-21.67 -1.38 M-18.44 -9.68 L-18.44 0.00 M-7.38 -7.38 L-7.38 -7.84 L-6.92 -8.76 L-6.45 -9.22 L-5.53 -9.68 L-3.69 -9.68 L-2.77 -9.22 L-2.31 -8.76 L-1.84 -7.84 L-1.84 -6.92 L-2.31 -5.99 L-3.23 -4.61 L-7.84 0.00 L-1.38 0.00"/></g>
<path d="M90.30 60.50 H615.90 V460.40 H90.30 Z M109.07 460.40 v-3.40 M109.07 60.50 v3.40 M127.84 460.40 v-3.40 M127.84 60.50 v3.40 M146.61 460.40 v-3.40 M146.61 60.50 v3.40 M165.39 460.40 v-7.00 M165.39 60.50 v7.00 M184.16 460.40 v-3.40 M184.16 60.50 v3.40 M202.93 460.40 v-3.40 M202.93 60.50 v3.40 M221.70 460.40 v-3.40 M221.70 60.50 v3.40 M240.47 460.40 v-7.00 M240.47 60.50 v7.00 M259.24 460.40 v-3.40 M259.24 60.50 v3.40 M278.01 460.40 v-3.40 M278.01 60.50 v3.40 M296.79 460.40 v-3.40 M296.79 60.50 v3.40 M315.56 460.40 v-7.00 M315.56 60.50 v7.00 M334.33 460.40 v-3.40 M334.33 60.50 v3.40 M353.10 460.40 v-3.40 M353.10 60.50 v3.40 M371.87 460.40 v-3.40 M371.87 60.50 v3.40 M390.64 460.40 v-7.00 M390.64 60.50 v7.00 M409.41 460.40 v-3.40 M409.41 60.50 v3.40 M428.19 460.40 v-3.40 M428.19 60.50 v3.40 M446.96 460.40 v-3.40 M446.96 60.50 v3.40 M465.73 460.40 v-7.00 M465.73 60.50 v7.00 M484.50 460.40 v-3.40 M484.50 60.50 v3.40 M503.27 460.40 v-3.40 M503.27 60.50 v3.40 M522.04 460.40 v-3.40 M522.04 60.50 v3.40 M540.81 460.40 v-7.00 M540.81 60.50 v7.00 M559.59 460.40 v-3.40 M559.59 60.50 v3.40 M578.36 460.40 v-3.40 M578.36 60.50 v3.40 M597.13 460.40 v-3.40 M597.13 60.50 v3.40 M90.30 442.22 h4.60 M615.90 442.22 h-4.60 M90.30 424.05 h4.60 M615.90 424.05 h-4.60 M90.30 405.87 h4.60 M615.90 405.87 h-4.60 M90.30 387.69 h9.60 M615.90 387.69 h-9.60 M90.30 369.51 h4.60 M615.90 369.51 h-4.60 M90.30 351.34 h4.60 M615.90 351.34 h-4.60 M90.30 333.16 h4.60 M615.90 333.16 h-4.60 M90.30 314.98 h9.60 M615.90 314.98 h-9.60 M90.30 296.80 h4.60 M615.90 296.80 h-4.60 M90.30 278.63 h4.60 M615.90 278.63 h-4.60 M90.30 260.45 h4.60 M615.90 260.45 h-4.60 M90.30 242.27 h9.60 M615.90 242.27 h-9.60 M90.30 224.10 h4.60 M615.90 224.10 h-4.60 M90.30 205.92 h4.60 M615.90 205.92 h-4.60 M90.30 187.74 h4.60 M615.90 187.74 h-4.60 M90.30 169.56 h9.60 M615.90 169.56 h-9.60 M90.30 151.39 h4.60 M615.90 151.39 h-4.60 M90.30 133.21 h4.60 M615.90 133.21 h-4.60 M90.30 115.03 h4.60 M615.90 115.03 h-4.60 M90.30 96.85 h9.60 M615.90 96.85 h-9.60 M90.30 78.68 h4.60 M615.90 78.68 h-4.60" fill="none" stroke="#000" stroke-width="1.45" stroke-linecap="round" stroke-linejoin="round"/>
<defs><clipPath id="c"><rect x="89.70" y="60.50" width="526.80" height="400.50"/></clipPath></defs>
<path d="M111.21 318.50 V424.60 M107.51 318.50 h7.4 M107.51 424.60 h7.4 M131.82 276.25 V354.00 M128.12 276.25 h7.4 M128.12 354.00 h7.4 M152.43 255.25 V318.25 M148.73 255.25 h7.4 M148.73 318.25 h7.4 M173.04 230.00 V280.00 M169.34 230.00 h7.4 M169.34 280.00 h7.4 M193.65 211.25 V251.25 M189.95 211.25 h7.4 M189.95 251.25 h7.4 M214.26 197.50 V230.10 M210.56 197.50 h7.4 M210.56 230.10 h7.4 M234.87 181.75 V208.25 M231.17 181.75 h7.4 M231.17 208.25 h7.4 M255.48 170.50 V192.10 M251.78 170.50 h7.4 M251.78 192.10 h7.4 M276.09 159.25 V176.75 M272.39 159.25 h7.4 M272.39 176.75 h7.4 M296.70 148.25 V161.75 M293.00 148.25 h7.4 M293.00 161.75 h7.4 M317.31 132.50 V141.25 M313.61 132.50 h7.4 M313.61 141.25 h7.4" fill="none" stroke="#444" stroke-width="0.8"/>
<path clip-path="url(#c)" d="M90.60 439.50 L111.21 374.20 L131.82 315.75 L152.43 287.00 L173.04 255.00 L193.65 231.25 L214.26 213.60 L234.87 194.25 L255.48 181.75 L276.09 168.00 L296.70 155.00 L317.31 136.75 L337.92 127.50 L358.53 115.00 L379.14 108.50 L399.75 108.40 L420.36 107.40 L440.97 104.80 L461.58 105.40 L482.19 100.80 L502.80 98.20 L523.41 95.90 L544.02 96.40 L564.63 96.60 L585.24 92.40 L605.85 94.20 L615.90 96.40 M85.90 439.50 l4.70 -4.70 l4.70 4.70 l-4.70 4.70 Z M106.51 374.20 l4.70 -4.70 l4.70 4.70 l-4.70 4.70 Z M127.12 315.75 l4.70 -4.70 l4.70 4.70 l-4.70 4.70 Z M147.73 287.00 l4.70 -4.70 l4.70 4.70 l-4.70 4.70 Z M168.34 255.00 l4.70 -4.70 l4.70 4.70 l-4.70 4.70 Z M188.95 231.25 l4.70 -4.70 l4.70 4.70 l-4.70 4.70 Z M209.56 213.60 l4.70 -4.70 l4.70 4.70 l-4.70 4.70 Z M230.17 194.25 l4.70 -4.70 l4.70 4.70 l-4.70 4.70 Z M250.78 181.75 l4.70 -4.70 l4.70 4.70 l-4.70 4.70 Z M271.39 168.00 l4.70 -4.70 l4.70 4.70 l-4.70 4.70 Z M292.00 155.00 l4.70 -4.70 l4.70 4.70 l-4.70 4.70 Z M312.61 136.75 l4.70 -4.70 l4.70 4.70 l-4.70 4.70 Z M333.22 127.50 l4.70 -4.70 l4.70 4.70 l-4.70 4.70 Z M353.83 115.00 l4.70 -4.70 l4.70 4.70 l-4.70 4.70 Z M374.44 108.50 l4.70 -4.70 l4.70 4.70 l-4.70 4.70 Z M395.05 108.40 l4.70 -4.70 l4.70 4.70 l-4.70 4.70 Z M415.66 107.40 l4.70 -4.70 l4.70 4.70 l-4.70 4.70 Z M436.27 104.80 l4.70 -4.70 l4.70 4.70 l-4.70 4.70 Z M456.88 105.40 l4.70 -4.70 l4.70 4.70 l-4.70 4.70 Z M477.49 100.80 l4.70 -4.70 l4.70 4.70 l-4.70 4.70 Z M498.10 98.20 l4.70 -4.70 l4.70 4.70 l-4.70 4.70 Z M518.71 95.90 l4.70 -4.70 l4.70 4.70 l-4.70 4.70 Z M539.32 96.40 l4.70 -4.70 l4.70 4.70 l-4.70 4.70 Z M559.93 96.60 l4.70 -4.70 l4.70 4.70 l-4.70 4.70 Z M580.54 92.40 l4.70 -4.70 l4.70 4.70 l-4.70 4.70 Z M601.15 94.20 l4.70 -4.70 l4.70 4.70 l-4.70 4.70 Z" fill="none" stroke="#000" stroke-width="1.45" stroke-linejoin="round" stroke-linecap="butt"/>
<path d="M526.2 364.70 H589.3 M553.30 364.70 l4.70 -4.70 l4.70 4.70 l-4.70 4.70 Z" fill="none" stroke="#000" stroke-width="1.45" stroke-linejoin="round" stroke-linecap="butt"/>
<path clip-path="url(#c)" d="M90.60 436.50 L111.21 368.50 L131.82 305.25 L152.43 268.75 L173.04 225.75 L193.65 193.50 L214.26 161.75 L234.87 136.75 L255.48 125.00 L276.09 106.75 L296.70 106.75 L317.31 100.50 L337.92 98.25 L358.53 99.20 L379.14 91.90 L399.75 83.90 L420.36 86.50 L440.97 89.10 L461.58 87.30 L482.19 96.90 L502.80 89.90 L523.41 95.50 L544.02 100.40 L564.63 99.80 L585.24 99.80 L605.85 98.00 L615.90 98.50 M86.10 436.50 h9.00 M90.60 432.00 v9.00 M86.10 432.00 l9.00 9.00 M86.10 441.00 l9.00 -9.00 M106.71 368.50 h9.00 M111.21 364.00 v9.00 M106.71 364.00 l9.00 9.00 M106.71 373.00 l9.00 -9.00 M127.32 305.25 h9.00 M131.82 300.75 v9.00 M127.32 300.75 l9.00 9.00 M127.32 309.75 l9.00 -9.00 M147.93 268.75 h9.00 M152.43 264.25 v9.00 M147.93 264.25 l9.00 9.00 M147.93 273.25 l9.00 -9.00 M168.54 225.75 h9.00 M173.04 221.25 v9.00 M168.54 221.25 l9.00 9.00 M168.54 230.25 l9.00 -9.00 M189.15 193.50 h9.00 M193.65 189.00 v9.00 M189.15 189.00 l9.00 9.00 M189.15 198.00 l9.00 -9.00 M209.76 161.75 h9.00 M214.26 157.25 v9.00 M209.76 157.25 l9.00 9.00 M209.76 166.25 l9.00 -9.00 M230.37 136.75 h9.00 M234.87 132.25 v9.00 M230.37 132.25 l9.00 9.00 M230.37 141.25 l9.00 -9.00 M250.98 125.00 h9.00 M255.48 120.50 v9.00 M250.98 120.50 l9.00 9.00 M250.98 129.50 l9.00 -9.00 M271.59 106.75 h9.00 M276.09 102.25 v9.00 M271.59 102.25 l9.00 9.00 M271.59 111.25 l9.00 -9.00 M292.20 106.75 h9.00 M296.70 102.25 v9.00 M292.20 102.25 l9.00 9.00 M292.20 111.25 l9.00 -9.00 M312.81 100.50 h9.00 M317.31 96.00 v9.00 M312.81 96.00 l9.00 9.00 M312.81 105.00 l9.00 -9.00 M333.42 98.25 h9.00 M337.92 93.75 v9.00 M333.42 93.75 l9.00 9.00 M333.42 102.75 l9.00 -9.00 M354.03 99.20 h9.00 M358.53 94.70 v9.00 M354.03 94.70 l9.00 9.00 M354.03 103.70 l9.00 -9.00 M374.64 91.90 h9.00 M379.14 87.40 v9.00 M374.64 87.40 l9.00 9.00 M374.64 96.40 l9.00 -9.00 M395.25 83.90 h9.00 M399.75 79.40 v9.00 M395.25 79.40 l9.00 9.00 M395.25 88.40 l9.00 -9.00 M415.86 86.50 h9.00 M420.36 82.00 v9.00 M415.86 82.00 l9.00 9.00 M415.86 91.00 l9.00 -9.00 M436.47 89.10 h9.00 M440.97 84.60 v9.00 M436.47 84.60 l9.00 9.00 M436.47 93.60 l9.00 -9.00 M457.08 87.30 h9.00 M461.58 82.80 v9.00 M457.08 82.80 l9.00 9.00 M457.08 91.80 l9.00 -9.00 M477.69 96.90 h9.00 M482.19 92.40 v9.00 M477.69 92.40 l9.00 9.00 M477.69 101.40 l9.00 -9.00 M498.30 89.90 h9.00 M502.80 85.40 v9.00 M498.30 85.40 l9.00 9.00 M498.30 94.40 l9.00 -9.00 M518.91 95.50 h9.00 M523.41 91.00 v9.00 M518.91 91.00 l9.00 9.00 M518.91 100.00 l9.00 -9.00 M539.52 100.40 h9.00 M544.02 95.90 v9.00 M539.52 95.90 l9.00 9.00 M539.52 104.90 l9.00 -9.00 M560.13 99.80 h9.00 M564.63 95.30 v9.00 M560.13 95.30 l9.00 9.00 M560.13 104.30 l9.00 -9.00 M580.74 99.80 h9.00 M585.24 95.30 v9.00 M580.74 95.30 l9.00 9.00 M580.74 104.30 l9.00 -9.00 M601.35 98.00 h9.00 M605.85 93.50 v9.00 M601.35 93.50 l9.00 9.00 M601.35 102.50 l9.00 -9.00" fill="none" stroke="#3200ff" stroke-width="1.45" stroke-linejoin="round" stroke-linecap="butt"/>
<path d="M526.2 381.30 H589.3 M553.50 381.30 h9.00 M558.00 376.80 v9.00 M553.50 376.80 l9.00 9.00 M553.50 385.80 l9.00 -9.00" fill="none" stroke="#3200ff" stroke-width="1.45" stroke-linejoin="round" stroke-linecap="butt"/>
<path clip-path="url(#c)" d="M90.60 383.50 L111.21 382.50 L131.82 378.00 L152.43 371.50 L173.04 361.50 L193.65 348.00 L214.26 329.50 L234.87 306.25 L255.48 279.00 L276.09 246.50 L296.70 209.50 L317.31 175.50 L337.92 150.50 L358.53 132.00 L379.14 119.80 L399.75 110.80 L420.36 106.20 L440.97 101.80 L461.58 99.80 L482.19 99.40 L502.80 97.80 L523.41 96.90 L544.02 96.90 L564.63 96.90 L585.24 96.90 L605.85 96.30 L615.90 97.30 M85.90 388.20 L90.60 378.80 L95.30 388.20 Z M106.51 387.20 L111.21 377.80 L115.91 387.20 Z M127.12 382.70 L131.82 373.30 L136.52 382.70 Z M147.73 376.20 L152.43 366.80 L157.13 376.20 Z M168.34 366.20 L173.04 356.80 L177.74 366.20 Z M188.95 352.70 L193.65 343.30 L198.35 352.70 Z M209.56 334.20 L214.26 324.80 L218.96 334.20 Z M230.17 310.95 L234.87 301.55 L239.57 310.95 Z M250.78 283.70 L255.48 274.30 L260.18 283.70 Z M271.39 251.20 L276.09 241.80 L280.79 251.20 Z M292.00 214.20 L296.70 204.80 L301.40 214.20 Z M312.61 180.20 L317.31 170.80 L322.01 180.20 Z M333.22 155.20 L337.92 145.80 L342.62 155.20 Z M353.83 136.70 L358.53 127.30 L363.23 136.70 Z M374.44 124.50 L379.14 115.10 L383.84 124.50 Z M395.05 115.50 L399.75 106.10 L404.45 115.50 Z M415.66 110.90 L420.36 101.50 L425.06 110.90 Z M436.27 106.50 L440.97 97.10 L445.67 106.50 Z M456.88 104.50 L461.58 95.10 L466.28 104.50 Z M477.49 104.10 L482.19 94.70 L486.89 104.10 Z M498.10 102.50 L502.80 93.10 L507.50 102.50 Z M518.71 101.60 L523.41 92.20 L528.11 101.60 Z M539.32 101.60 L544.02 92.20 L548.72 101.60 Z M559.93 101.60 L564.63 92.20 L569.33 101.60 Z M580.54 101.60 L585.24 92.20 L589.94 101.60 Z M601.15 101.00 L605.85 91.60 L610.55 101.00 Z" fill="none" stroke="#551a8b" stroke-width="1.45" stroke-linejoin="round" stroke-linecap="butt"/>
<path d="M526.2 414.70 H589.3 M553.30 419.40 L558.00 410.00 L562.70 419.40 Z" fill="none" stroke="#551a8b" stroke-width="1.45" stroke-linejoin="round" stroke-linecap="butt"/>
<path clip-path="url(#c)" d="M90.60 383.75 L111.21 382.50 L131.82 378.25 L152.43 372.00 L173.04 362.50 L193.65 349.25 L214.26 333.00 L234.87 312.50 L255.48 286.75 L276.09 255.50 L296.70 219.50 L317.31 186.75 L337.92 162.50 L358.53 145.20 L379.14 132.00 L399.75 124.10 L420.36 118.60 L440.97 114.80 L461.58 112.20 L482.19 110.20 L502.80 108.80 L523.41 107.20 L544.02 105.40 L564.63 103.20 L585.24 100.80 L605.85 98.20 M85.90 379.05 h9.40 v9.40 h-9.40 Z M106.51 377.80 h9.40 v9.40 h-9.40 Z M127.12 373.55 h9.40 v9.40 h-9.40 Z M147.73 367.30 h9.40 v9.40 h-9.40 Z M168.34 357.80 h9.40 v9.40 h-9.40 Z M188.95 344.55 h9.40 v9.40 h-9.40 Z M209.56 328.30 h9.40 v9.40 h-9.40 Z M230.17 307.80 h9.40 v9.40 h-9.40 Z M250.78 282.05 h9.40 v9.40 h-9.40 Z M271.39 250.80 h9.40 v9.40 h-9.40 Z M292.00 214.80 h9.40 v9.40 h-9.40 Z M312.61 182.05 h9.40 v9.40 h-9.40 Z M333.22 157.80 h9.40 v9.40 h-9.40 Z M353.83 140.50 h9.40 v9.40 h-9.40 Z M374.44 127.30 h9.40 v9.40 h-9.40 Z M395.05 119.40 h9.40 v9.40 h-9.40 Z M415.66 113.90 h9.40 v9.40 h-9.40 Z M436.27 110.10 h9.40 v9.40 h-9.40 Z M456.88 107.50 h9.40 v9.40 h-9.40 Z M477.49 105.50 h9.40 v9.40 h-9.40 Z M498.10 104.10 h9.40 v9.40 h-9.40 Z M518.71 102.50 h9.40 v9.40 h-9.40 Z M539.32 100.70 h9.40 v9.40 h-9.40 Z M559.93 98.50 h9.40 v9.40 h-9.40 Z M580.54 96.10 h9.40 v9.40 h-9.40 Z M601.15 93.50 h9.40 v9.40 h-9.40 Z" fill="none" stroke="#ffc000" stroke-width="1.45" stroke-linejoin="round" stroke-linecap="butt"/>
<path d="M526.2 431.30 H589.3 M553.30 426.60 h9.40 v9.40 h-9.40 Z" fill="none" stroke="#ffc000" stroke-width="1.45" stroke-linejoin="round" stroke-linecap="butt"/>
<path clip-path="url(#c)" d="M90.60 460.10 L111.21 353.70 L131.82 314.00 L152.43 288.00 L173.04 257.00 L193.65 234.50 L214.26 216.30 L234.87 198.30 L255.48 181.50 L276.09 165.00 L296.70 150.00 L317.31 135.50 L337.92 123.00 L358.53 110.50 L379.14 107.40 L399.75 105.00 L420.36 103.00 L440.97 101.20 L461.58 99.80 L482.19 98.50 L502.80 97.90 L523.41 97.90 L544.02 98.20 L564.63 98.70 L585.24 99.20 L605.85 99.90 L615.90 100.40" fill="none" stroke="#ff0000" stroke-width="1.40" stroke-linejoin="round" stroke-linecap="butt"/>
<path d="M526.2 398.00 H589.3" fill="none" stroke="#ff0000" stroke-width="1.40" stroke-linejoin="round" stroke-linecap="butt"/>
</svg>
</body></html>
